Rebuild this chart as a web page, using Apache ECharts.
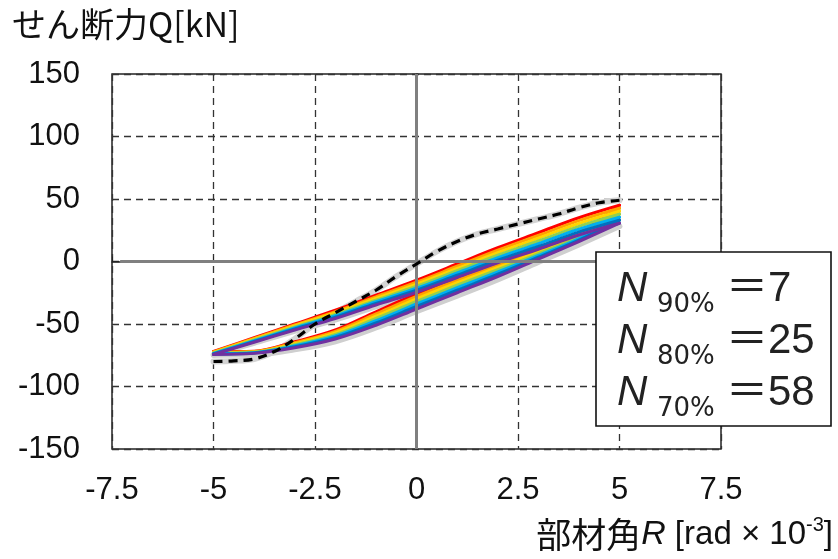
<!DOCTYPE html>
<html>
<head>
<meta charset="utf-8">
<script src="https://cdn.jsdelivr.net/npm/echarts@6/dist/echarts.min.js"></script>
<style>
  html, body { margin: 0; padding: 0; background: #ffffff; }
  #chart { width: 838px; height: 559px; }
</style>
</head>
<body>
<div id="chart"></div>
<script>
// Member rotation angle R [rad x 10^-3] sample positions for the loop branches
const rotationPoints = [-5, -4, -3, -2, -1, 0, 1, 2, 3, 4, 5];

// Upper branch of each cycle (shear force Q [kN] at rotationPoints)
const upperBranches = [
  [-72.0, -61.0, -50.0, -39.0, -27.0, -15.0, -2.0, 11.0, 23.0, 35.0, 45.0],
  [-72.4, -61.6, -50.8, -40.1, -28.3, -16.6, -3.8, 9.0, 20.8, 32.7, 42.6],
  [-72.8, -62.2, -51.6, -41.2, -29.6, -18.2, -5.6, 7.0, 18.6, 30.4, 40.2],
  [-73.2, -62.8, -52.4, -42.3, -30.9, -19.8, -7.4, 5.0, 16.4, 28.1, 37.8],
  [-73.6, -63.4, -53.2, -43.4, -32.2, -21.4, -9.2, 3.0, 14.2, 25.8, 35.4],
  [-74.0, -64.0, -54.0, -44.5, -33.5, -23.0, -11.0, 1.0, 12.0, 23.5, 33.0],
  [-74.4, -64.6, -54.8, -45.6, -34.8, -24.6, -12.8, -1.0, 9.8, 21.2, 30.6]
];

// Lower branch of each cycle
const lowerBranches = [
  [-72.0, -71.7, -64.2, -54.8, -40.2, -26.0, -13.0, -1.2, 10.4, 23.2, 45.0],
  [-72.4, -72.0, -65.0, -56.0, -42.0, -28.0, -15.0, -3.0, 9.0, 22.0, 42.6],
  [-72.8, -72.3, -65.8, -57.2, -43.8, -30.0, -17.0, -4.8, 7.6, 20.8, 40.2],
  [-73.2, -72.6, -66.6, -58.4, -45.6, -32.0, -19.0, -6.6, 6.2, 19.6, 37.8],
  [-73.6, -72.9, -67.4, -59.6, -47.4, -34.0, -21.0, -8.4, 4.8, 18.4, 35.4],
  [-74.0, -73.2, -68.2, -60.8, -49.2, -36.0, -23.0, -10.2, 3.4, 17.2, 33.0],
  [-74.4, -73.5, -69.0, -62.0, -51.0, -38.0, -25.0, -12.0, 2.0, 16.0, 30.6]
];

// Later cycles drawn in grey
const greyUpper = [-74.8, -65.2, -55.6, -46.7, -36.1, -26.2, -14.6, -3.0, 7.6, 18.9, 28.2];
const greyLower = [-74.8, -74.5, -70.5, -64.0, -53.0, -40.0, -27.5, -14.5, -0.5, 13.5, 28.2];

// First loading branch (dashed)
const firstR = [-5, -4.5, -4, -3.5, -3, -2.5, -2, -1.5, -1, -0.5, 0, 0.5, 1, 1.5, 2, 2.5, 3, 3.5, 4, 4.5, 5];
const firstQ = [-80, -79.5, -78, -72, -62, -50, -41, -32, -23, -12, -2, 8, 16, 22, 26, 30, 34, 38, 43, 47, 49];

const cycleColors = ['#FF0000', '#FFA200', '#FFD400', '#92D050', '#00B0F0', '#0070C0', '#7030A0'];

// Fatigue-life annotation
const lifeLevels = ['90%', '80%', '70%'];
const lifeCycles = [7, 25, 58];

const pairs = (xs, ys) => xs.map((x, i) => [x, ys[i]]);

const series = [];
const branchLine = (data, color, width, z) => ({
  type: 'line', data: data, smooth: 0.35, showSymbol: false, silent: true,
  lineStyle: { color: color, width: width, cap: 'round', join: 'round' }, z: z
});

// grey halo under the first branch and later cycles
series.push(branchLine(pairs(firstR, firstQ), '#d4d4d4', 6, 2));
series.push(branchLine(pairs(rotationPoints, greyUpper), '#cfcfcf', 5.5, 2));
series.push(branchLine(pairs(rotationPoints, greyLower), '#cfcfcf', 5.5, 2));

cycleColors.forEach((c, k) => {
  series.push(branchLine(pairs(rotationPoints, upperBranches[k]), c, 3, 3));
  series.push(branchLine(pairs(rotationPoints, lowerBranches[k]), c, 3, 3));
});

// zero axes on top of the loops
series.push({
  type: 'line', data: [], silent: true, z: 4,
  markLine: {
    silent: true, symbol: 'none', animation: false, label: { show: false },
    lineStyle: { color: '#808080', width: 3, type: 'solid' },
    data: [
      [{ coord: [0, -150] }, { coord: [0, 150] }],
      [{ coord: [-7.3, 0] }, { coord: [7.5, 0] }]
    ]
  }
});

series.push({
  type: 'line', data: pairs(firstR, firstQ), smooth: 0.35, showSymbol: false, silent: true, z: 5,
  lineStyle: { color: '#000000', width: 3.2, type: [9, 6] }
});

const chart = echarts.init(document.getElementById('chart'), null, { renderer: 'canvas' });
const latin = '"Liberation Sans", Arial, "Noto Sans CJK JP", sans-serif';
const cjk = '"Noto Sans CJK JP", "Liberation Sans", sans-serif';

const legendRows = lifeLevels.map((lv, i) => {
  const y = 291 + i * 52;
  return [
    { type: 'text', left: 617, top: y - 23, z: 101,
      style: { text: 'N', font: 'italic 42px "Liberation Sans", Arial, sans-serif', fill: '#222' } },
    { type: 'text', left: 657, top: y + 1, z: 101,
      style: { text: lv, font: '26px "DejaVu Sans", "Liberation Sans", sans-serif', fill: '#222' } },
    { type: 'text', left: 726, top: y - 23, z: 101,
      style: { text: '＝' + lifeCycles[i], font: '42px "Liberation Sans", "Noto Sans CJK JP", sans-serif', fill: '#222' } }
  ];
}).flat();

chart.setOption({
  animation: false,
  backgroundColor: '#ffffff',
  grid: { left: 112, right: 117, top: 74, bottom: 110, show: true, borderColor: '#222', borderWidth: 1.5, backgroundColor: 'transparent' },
  xAxis: {
    type: 'value', min: -7.5, max: 7.5, interval: 2.5,
    axisLine: { show: true, lineStyle: { color: '#222', width: 1.5 } },
    axisTick: { show: true, inside: true, length: 5, lineStyle: { color: '#222' } },
    axisLabel: { margin: 26, fontSize: 31, color: '#111', fontFamily: latin },
    splitLine: { show: true, lineStyle: { color: '#333', width: 1.3, type: [7, 5] } }
  },
  yAxis: {
    type: 'value', min: -150, max: 150, interval: 50,
    axisLine: { show: true, lineStyle: { color: '#222', width: 1.5 } },
    axisTick: { show: false },
    axisLabel: { margin: 32, fontSize: 31, color: '#111', fontFamily: latin },
    splitLine: { show: true, lineStyle: { color: '#333', width: 1.3, type: [7, 5] } }
  },
  graphic: [
    { type: 'text', left: 12, top: 7, z: 101,
      style: { text: 'せん断力Q[kN]', font: '34px ' + cjk, fill: '#111' } },
    { type: 'text', right: 5, top: 515, z: 101,
      style: {
        text: '{a|部材角}{r|R}{b| [rad × 10}{s|-3}{b|]}',
        rich: {
          a: { fontFamily: cjk, fontSize: 35, fill: '#111', lineHeight: 40 },
          r: { fontFamily: latin, fontStyle: 'italic', fontSize: 34, fill: '#111', lineHeight: 40 },
          b: { fontFamily: latin, fontSize: 33, fill: '#111', lineHeight: 40 },
          s: { fontFamily: latin, fontSize: 20, fill: '#111', verticalAlign: 'top', lineHeight: 40 }
        }
      } },
    { type: 'rect', z: 100, shape: { x: 596, y: 252, width: 235, height: 174 },
      style: { fill: '#ffffff', stroke: '#111', lineWidth: 1.6 } }
  ].concat(legendRows),
  series: series
});
</script>
</body>
</html>
